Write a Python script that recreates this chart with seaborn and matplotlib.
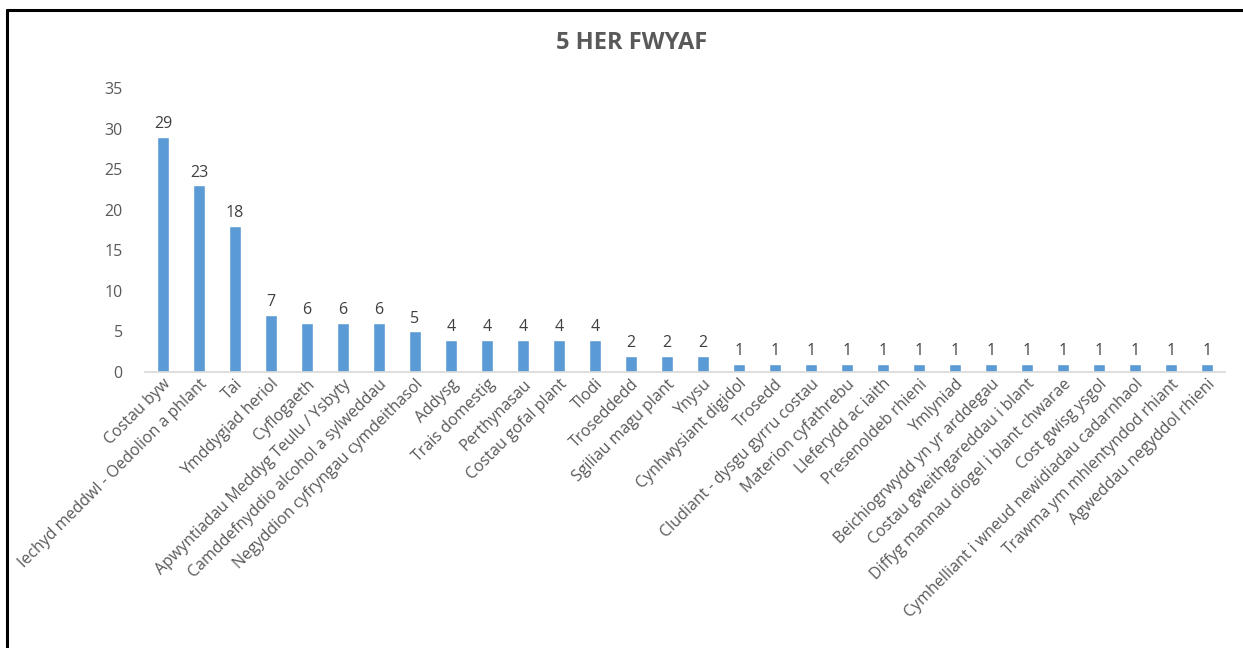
import matplotlib
matplotlib.use("Agg")
import matplotlib.pyplot as plt
import pandas as pd
import seaborn as sns
from matplotlib.lines import Line2D

categories = [
    "Costau byw", "Iechyd meddwl - Oedolion a phlant", "Tai", "Ymddygiad heriol",
    "Cyflogaeth", "Apwyntiadau Meddyg Teulu / Ysbyty", "Camddefnyddio alcohol a sylweddau",
    "Negyddion cyfryngau cymdeithasol", "Addysg", "Trais domestig", "Perthynasau",
    "Costau gofal plant", "Tlodi", "Troseddedd", "Sgiliau magu plant", "Ynysu",
    "Cynhwysiant digidol", "Trosedd", "Cludiant - dysgu gyrru costau",
    "Materion cyfathrebu", "Lleferydd ac iaith", "Presenoldeb rhieni", "Ymlyniad",
    "Beichiogrwydd yn yr arddegau", "Costau gweithgareddau i blant",
    "Diffyg mannau diogel i blant chwarae", "Cost gwisg ysgol",
    "Cymhelliant i wneud newidiadau cadarnhaol", "Trawma ym mhlentyndod rhiant",
    "Agweddau negyddol rhieni",
]
values = [29, 23, 18, 7, 6, 6, 6, 5, 4, 4, 4, 4, 4, 2, 2, 2,
          1, 1, 1, 1, 1, 1, 1, 1, 1, 1, 1, 1, 1, 1]

df = pd.DataFrame({"cat": categories, "val": values})

sns.set_theme(style="white")
plt.rcParams["font.family"] = ["Open Sans", "DejaVu Sans"]

grey = "#595959"
fig = plt.figure(figsize=(12.43, 6.48), dpi=100)
ax = fig.add_axes([145 / 1243, (648 - 372) / 648, (1225 - 145) / 1243, (372 - 88) / 648])

sns.barplot(data=df, x="cat", y="val", color="#5B9BD5", width=0.33, ax=ax, saturation=1)

for i, v in enumerate(values):
    ax.text(i, v + 0.6, str(v), ha="center", va="bottom", fontsize=11.5, color="#404040")

ax.set_ylim(0, 35)
ax.set_yticks(range(0, 36, 5))
ax.set_xlim(-0.5, len(values) - 0.5)
ax.set_xlabel("")
ax.set_ylabel("")
ax.tick_params(axis="y", colors=grey, labelsize=11.5, length=0, pad=16)
ax.tick_params(axis="x", colors=grey, labelsize=11.5, length=0, pad=3)
plt.setp(ax.get_xticklabels(), rotation=45, ha="right", rotation_mode="anchor")
for s in ["top", "right", "left"]:
    ax.spines[s].set_visible(False)
ax.spines["bottom"].set_color("#D9D9D9")
ax.spines["bottom"].set_linewidth(1.2)

fig.text(632 / 1243, 1 - 43 / 648, "5 HER FWYAF", ha="center", va="center",
         fontsize=17, fontweight="bold", color=grey)

# outer frame (top and left edges)
fig.add_artist(Line2D([7 / 1243, 1], [1 - 10 / 648, 1 - 10 / 648], color="black", lw=2.2))
fig.add_artist(Line2D([7 / 1243, 7 / 1243], [0, 1 - 10 / 648], color="black", lw=2.2))

fig.savefig("out.png", dpi=100, facecolor="white")
